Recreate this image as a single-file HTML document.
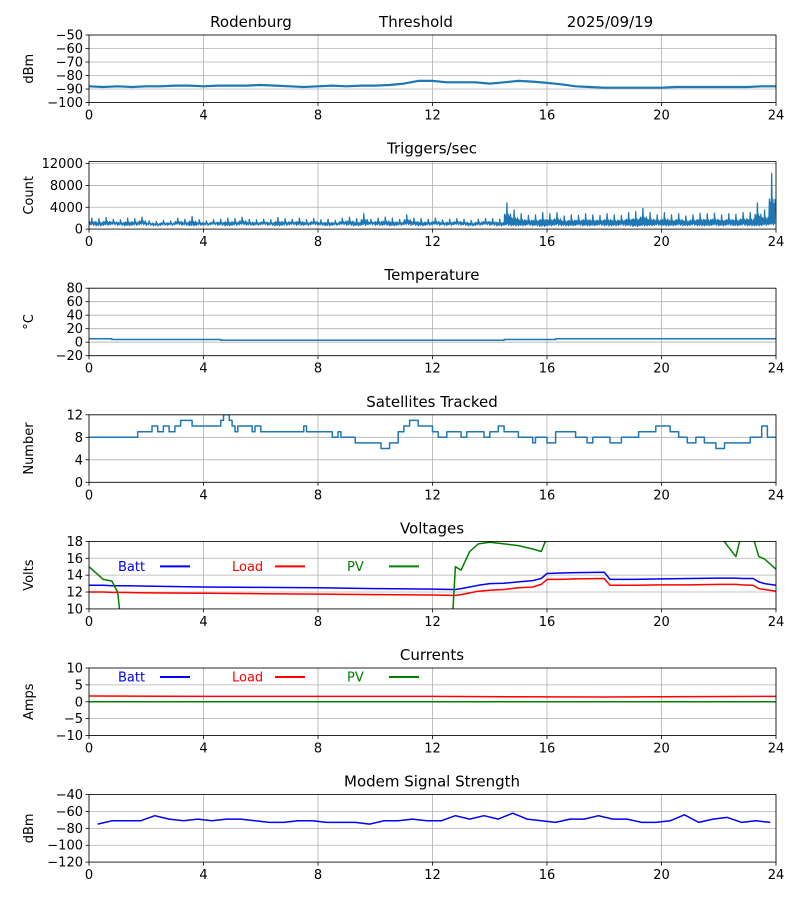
<!DOCTYPE html>
<html><head><meta charset="utf-8">
<style>
body{margin:0;background:#fff;}
svg text{font-family:"DejaVu Sans","Liberation Sans",sans-serif;}
</style></head>
<body>
<svg id="c" width="800" height="900" xmlns="http://www.w3.org/2000/svg"></svg>
<script>
// ---------- data ----------
const xTicks=[0,4,8,12,16,20,24];
const sigT=[0,0.5,1,1.5,2,2.5,3,3.5,4,4.5,5,5.5,6,6.5,7,7.5,8,8.5,9,9.5,10,10.5,11,11.5,12,12.5,13,13.5,14,14.5,15,15.5,16,16.5,17,17.5,18,18.5,19,19.5,20,20.5,21,21.5,22,22.5,23,23.5,24];
const sigV=[-88,-88.5,-88,-88.5,-88,-88,-87.5,-87.5,-88,-87.5,-87.5,-87.5,-87,-87.5,-88,-88.5,-88,-87.5,-88,-87.5,-87.5,-87,-86,-84,-84,-85,-85,-85,-86,-85,-84,-84.5,-85.5,-86.5,-88,-88.5,-89,-89,-89,-89,-89,-88.5,-88.5,-88.5,-88.5,-88.5,-88.5,-88,-88];
const trigMax=[2000,1900,2100,1800,1700,2000,1900,2200,1500,1400,1600,1500,2000,1800,2300,1700,1500,1700,1800,2000,1900,2200,1800,1700,1800,1700,2100,1900,1800,2000,1700,1900,1700,1800,1600,2000,2200,1900,2800,1800,2000,2200,2000,1800,2600,2000,1900,1800,2000,1700,1800,1900,1800,1600,1800,1900,1900,1800,4800,3500,2800,2500,2600,3000,2800,3000,2400,2600,2500,2800,2600,2500,2800,2600,2500,3000,3200,3800,3000,2600,3000,2600,2800,2400,2600,2900,2800,2900,2600,2800,2700,3000,3000,4800,3500,10200];
const trigMin=[700,600,700,800,700,600,700,800,700,600,700,700,800,700,600,700,700,800,700,600,700,800,700,700,800,700,600,700,800,700,700,800,700,600,700,800,700,600,700,800,700,700,600,700,800,700,600,700,800,700,700,800,700,600,700,800,700,600,700,600,600,700,600,500,600,700,600,600,700,600,600,700,600,600,700,600,500,600,600,700,600,600,700,600,700,600,600,700,600,700,600,700,600,600,700,800];
const tempT=[0,0.8,0.8,4.6,4.6,14.5,14.5,16.3,16.3,24];
const tempV=[5,5,4,4,3,3,4,4,5,5];
const satT=[0,1.7,2.2,2.4,2.6,2.8,3.0,3.2,3.6,4.6,4.7,4.9,5.0,5.1,5.2,5.7,5.8,6.0,7.5,7.6,8.5,8.7,8.8,9.3,10.2,10.5,10.8,11.0,11.2,11.5,12.0,12.2,12.5,13.0,13.2,13.8,14.0,14.3,14.5,15.0,15.5,15.6,16.0,16.3,17.0,17.4,17.6,18.2,18.6,18.8,19.2,19.8,20.3,20.6,20.9,21.2,21.5,21.9,22.2,23.1,23.5,23.7];
const satV=[8,9,10,9,10,9,10,11,10,11,12,11,10,9,10,9,10,9,10,9,8,9,8,7,6,7,9,10,11,10,9,8,9,8,9,8,9,10,9,8,7,8,7,9,8,7,8,7,8,8,9,10,9,8,7,8,7,6,7,8,10,8];
const vT=[0,0.5,0.8,1,1.1,2,4,6,8,10,12,12.7,12.8,13,13.3,13.6,14,14.5,15,15.5,15.8,16,16.5,17,18,18.2,19,20,21,22,22.3,22.6,22.8,23.2,23.4,23.6,24];
const battV=[12.8,12.8,12.75,12.75,12.75,12.7,12.6,12.55,12.5,12.4,12.35,12.3,12.3,12.4,12.6,12.8,13.0,13.05,13.2,13.35,13.6,14.2,14.25,14.3,14.35,13.5,13.5,13.55,13.6,13.65,13.65,13.65,13.6,13.6,13.2,13.0,12.8];
const loadV=[12.0,12.0,11.95,11.95,11.95,11.9,11.85,11.8,11.75,11.7,11.65,11.6,11.6,11.7,11.9,12.1,12.2,12.3,12.5,12.6,12.9,13.5,13.5,13.55,13.6,12.8,12.8,12.85,12.85,12.9,12.9,12.9,12.85,12.8,12.4,12.3,12.1];
const pvV=[15,13.5,13.3,12,9,5,5,5,5,5,5,9,15,14.6,16.8,17.7,17.9,17.7,17.5,17.1,16.8,18.5,20,20,20,20,20,20,20,19,17.5,16.2,19,18.5,16.2,15.9,14.7];
const curT=[0,4,8,12,16,18,20,24];
const curLoad=[1.7,1.6,1.6,1.6,1.45,1.4,1.5,1.6];
const curBatt=[0,0,0,0,0,0,0,0];
const curPV=[0,0,0,0,0,0,0,0];
const modT=[0.3,0.8,1.8,2.3,2.8,3.3,3.8,4.3,4.8,5.3,5.8,6.3,6.8,7.3,7.8,8.3,8.8,9.3,9.8,10.3,10.8,11.3,11.8,12.3,12.8,13.3,13.8,14.3,14.8,15.3,15.8,16.3,16.8,17.3,17.8,18.3,18.8,19.3,19.8,20.3,20.8,21.3,21.8,22.3,22.8,23.3,23.8];
const modV=[-75,-71,-71,-65,-69,-71,-69,-71,-69,-69,-71,-73,-73,-71,-71,-73,-73,-73,-75,-71,-71,-69,-71,-71,-65,-69,-65,-69,-62,-69,-71,-73,-69,-69,-65,-69,-69,-73,-73,-71,-64,-73,-69,-67,-73,-71,-73];

// ---------- drawing ----------
const svg=document.getElementById('c');
const NS='http://www.w3.org/2000/svg';
const X0=89,X1=776;
function el(tag,attrs,parent){const e=document.createElementNS(NS,tag);for(const k in attrs)e.setAttribute(k,attrs[k]);(parent||svg).appendChild(e);return e;}
const xs=t=>X0+(t/24)*(X1-X0);
const fmt=v=>String(v).replace('-','\u2212');
let clipN=0;
function panel(i,ymin,ymax,yTicks,title,ylabel,name){
  const top=35+i*126.6,h=67.5,bot=top+h;
  const g=el('g',{});
  
  
  const ys=v=>bot-(v-ymin)/(ymax-ymin)*h;
  xTicks.forEach(t=>{
    const l=el('line',{x1:xs(t),x2:xs(t),y1:top,y2:bot,stroke:'#b0b0b0','stroke-width':0.8},g);
    
    el('line',{x1:xs(t),x2:xs(t),y1:bot,y2:bot+3.5,stroke:'#000','stroke-width':0.8},g);
    const tx=el('text',{x:xs(t),y:bot+17,'font-size':13,'text-anchor':'middle'},g);tx.textContent=t;
    
  });
  yTicks.forEach(v=>{
    const l=el('line',{x1:X0,x2:X1,y1:ys(v),y2:ys(v),stroke:'#b0b0b0','stroke-width':0.8},g);
    
    el('line',{x1:X0-3.5,x2:X0,y1:ys(v),y2:ys(v),stroke:'#000','stroke-width':0.8},g);
    const tx=el('text',{x:X0-6,y:ys(v)+4.5,'font-size':13,'text-anchor':'end'},g);tx.textContent=fmt(v);
    
  });
  const yl=el('text',{x:0,y:0,'font-size':13,'text-anchor':'middle',transform:`translate(33,${top+h/2}) rotate(-90)`},g);
  yl.textContent=ylabel;
  
  if(title){const tt=el('text',{x:432,y:top-8,'font-size':15,'text-anchor':'middle'},g);tt.textContent=title;
    }
  clipN++;
  const cp=el('clipPath',{id:'cp'+clipN},g);el('rect',{x:X0,y:top,width:X1-X0,height:h},cp);
  const data=el('g',{'clip-path':`url(#cp${clipN})`},g);
  const fr=el('rect',{x:X0,y:top,width:X1-X0,height:h,fill:'none',stroke:'#000','stroke-width':0.8},g);
  
  return {ys,data,top,g};
}
function line(p,ts,vs,color,name,w){
  const pts=ts.map((t,k)=>xs(t).toFixed(1)+','+p.ys(vs[k]).toFixed(1)).join(' ');
  const pl=el('polyline',{points:pts,fill:'none',stroke:color,'stroke-width':w||1.5,'stroke-linejoin':'round'},p.data);
  
}
function steps(ts,vs){const t2=[],v2=[];ts.forEach((t,k)=>{if(k>0){t2.push(t);v2.push(vs[k-1]);}t2.push(t);v2.push(vs[k]);});t2.push(24);v2.push(vs[vs.length-1]);return [t2,v2];}
function legend(p,yoff){
  const items=[['Batt','#0000ff',118,160],['Load','#ff0000',232,275],['PV','#008000',347,389]];
  items.forEach(it=>{
    const t=el('text',{x:it[2],y:p.top+yoff+4.5,'font-size':13,fill:it[1]},p.g);t.textContent=it[0];
    
    el('line',{x1:it[3],x2:it[3]+30,y1:p.top+yoff,y2:p.top+yoff,stroke:it[1],'stroke-width':2},p.g);
  });
}
const C='#1f77b4';
// panel 1
const p1=panel(0,-100,-50,[-100,-90,-80,-70,-60,-50],null,'dBm','signal');
[['Rodenburg',251],['Threshold',416],['2025/09/19',610]].forEach(a=>{const t=el('text',{x:a[1],y:27,'font-size':15,'text-anchor':'middle'});t.textContent=a[0];
  });
line(p1,sigT,sigV,C,'signal-line',2.2);
// panel 2
const p2=panel(1,0,12370,[0,4000,8000,12000],'Triggers/sec','Count','triggers');
{const tt=[],vv=[];trigMax.forEach((mx,k)=>{const mn=trigMin[k];const b=k*0.25;const mid=(mn+mx)/2;
  [[0,mn],[0.02,mid],[0.04,mn+200],[0.06,mid*0.9],[0.08,mn+100],[0.1,mx],[0.12,mn+300],[0.14,mid],[0.16,mn],[0.18,mid*0.85],[0.2,mn+200],[0.22,mid]].forEach(q=>{tt.push(b+q[0]);vv.push(q[1]);});});
 line(p2,tt,vv,C,'triggers-line',1.3);}
// panel 3
const p3=panel(2,-20,80,[-20,0,20,40,60,80],'Temperature','°C','temperature');
line(p3,tempT,tempV,C,'temperature-line');
// panel 4
const p4=panel(3,0,12,[0,4,8,12],'Satellites Tracked','Number','satellites');
{const s=steps(satT,satV);line(p4,s[0],s[1],C,'satellites-line');}
// panel 5
const p5=panel(4,10,18,[10,12,14,16,18],'Voltages','Volts','voltages');
line(p5,vT,battV,'#0000ff','batt-voltage-line');
line(p5,vT,loadV,'#ff0000','load-voltage-line');
line(p5,vT,pvV,'#008000','pv-voltage-line');
legend(p5,25);
// panel 6
const p6=panel(5,-10,10,[-10,-5,0,5,10],'Currents','Amps','currents');
line(p6,curT,curBatt,'#0000ff','batt-current-line');
line(p6,curT,curLoad,'#ff0000','load-current-line');
line(p6,curT,curPV,'#008000','pv-current-line');
legend(p6,9);
// panel 7
const p7=panel(6,-120,-40,[-120,-100,-80,-60,-40],'Modem Signal Strength','dBm','modem');
line(p7,modT,modV,'#0000ff','modem-line');
</script>
</body></html>
